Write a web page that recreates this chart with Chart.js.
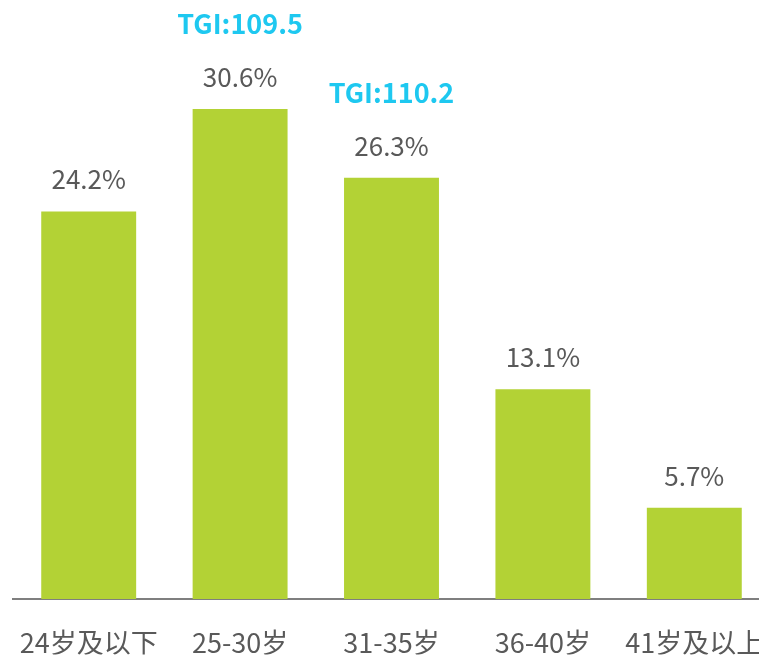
<!DOCTYPE html>
<html>
<head>
<meta charset="utf-8">
<script src="https://cdn.jsdelivr.net/npm/chart.js@4"></script>
<style>
  html, body { margin: 0; padding: 0; background: #fff; overflow: hidden; }
  canvas { display: block; }
</style>
</head>
<body>
<canvas id="grafico" width="771" height="656"></canvas>
<script>
// datos del grafico
const categorias = ['24岁及以下', '25-30岁', '31-35岁', '36-40岁', '41岁及以上'];
const porcentajes = [24.2, 30.6, 26.3, 13.1, 5.7];
const tgi = [null, 109.5, 110.2, null, null];

const gris = '#595959';
const verde = '#b3d235';
const cian = '#1ec8f0';

// etiquetas encima de cada barra
const etiquetas = {
  id: 'etiquetas',
  afterDatasetsDraw(chart) {
    const ctx = chart.ctx;
    const barras = chart.getDatasetMeta(0).data;
    ctx.save();
    ctx.textAlign = 'center';
    ctx.textBaseline = 'middle';
    barras.forEach((b, i) => {
      ctx.fillStyle = gris;
      ctx.font = '26px "Noto Sans CJK SC", "Open Sans", sans-serif';
      ctx.fillText(porcentajes[i].toFixed(1) + '%', b.x, b.y - 32);
      if (tgi[i] !== null) {
        ctx.fillStyle = cian;
        ctx.font = 'bold 27px "Noto Sans CJK SC", "Open Sans", sans-serif';
        ctx.fillText('TGI:' + tgi[i].toFixed(1), b.x, b.y - 85);
      }
    });
    ctx.restore();
  }
};

const ctx = document.getElementById('grafico').getContext('2d');
window.myChart = new Chart(ctx, {
  type: 'bar',
  data: {
    labels: categorias,
    datasets: [{
      data: porcentajes,
      backgroundColor: verde,
      categoryPercentage: 1,
      barPercentage: 0.627
    }]
  },
  options: {
    responsive: false,
    animation: false,
    layout: { autoPadding: false, padding: { left: 13, right: 1, top: 0, bottom: 1.5 } },
    plugins: {
      legend: { display: false },
      tooltip: { enabled: false }
    },
    scales: {
      y: { display: false, min: 0, max: 37.4 },
      x: {
        grid: { display: false, drawTicks: false },
        border: { display: true, color: '#7f7f7f', width: 2 },
        ticks: {
          color: gris,
          padding: 30.5,
          maxRotation: 0,
          autoSkip: false,
          font: { family: '"Noto Sans CJK SC", sans-serif', size: 27, lineHeight: 1 }
        },
        // sin relleno extra a los lados, la ultima etiqueta se corta como en el original
        afterFit(scale) {
          scale.height = 55.5;
          scale.paddingLeft = 0;
          scale.paddingRight = 0;
        }
      }
    }
  },
  plugins: [etiquetas]
});
</script>
</body>
</html>
